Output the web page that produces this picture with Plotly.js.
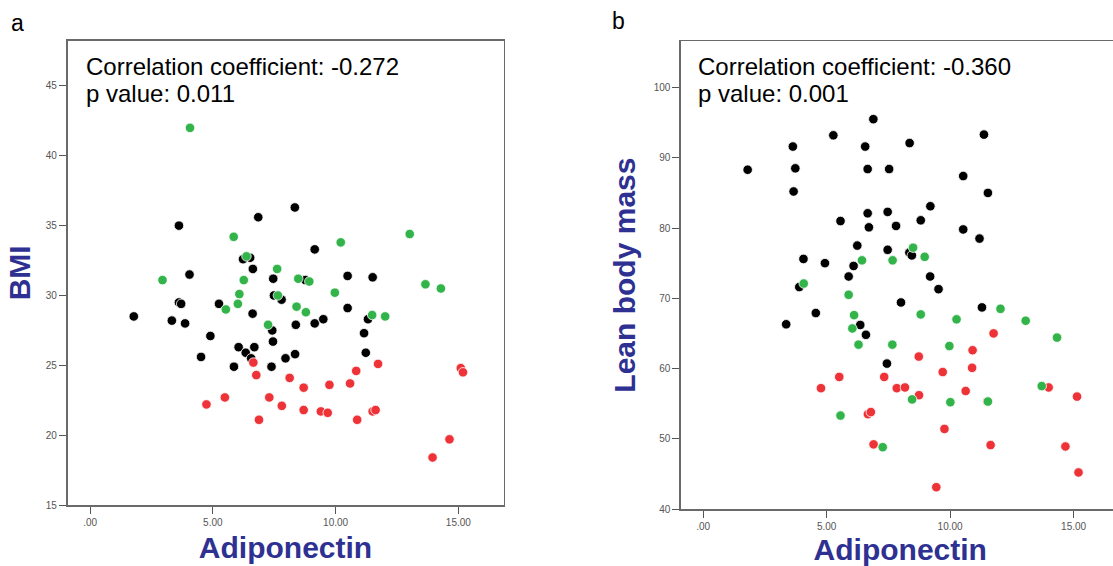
<!DOCTYPE html>
<html>
<head>
<meta charset="utf-8">
<script src="https://cdn.plot.ly/plotly-3.0.1.min.js"></script>
<style>
html,body{margin:0;padding:0;background:#fff;overflow:hidden;}
#chart{width:1125px;height:566px;}
</style>
</head>
<body>
<div id="chart"></div>
<script>
// ---------- Panel a: Adiponectin vs BMI ----------
const blackX_a = [1.78, 3.62, 4.05, 3.62, 3.71, 3.33, 3.87, 4.90, 4.52, 5.25, 5.86, 6.05, 6.34, 6.56, 6.69, 6.62, 6.63, 6.23, 6.52, 6.85, 8.34, 7.46, 7.49, 7.80, 7.42, 7.45, 7.39, 7.96, 8.35, 8.38, 8.77, 9.15, 9.15, 9.50, 10.49, 10.49, 11.51, 11.32, 11.16, 11.23];
const blackY_a = [28.5, 35.0, 31.5, 29.5, 29.4, 28.2, 28.0, 27.1, 25.6, 29.4, 24.9, 26.3, 25.9, 25.5, 26.3, 28.7, 31.9, 32.6, 32.7, 35.6, 36.3, 31.2, 30.0, 29.7, 27.5, 26.7, 24.9, 25.5, 25.8, 27.9, 31.1, 33.3, 28.0, 28.3, 31.4, 29.1, 31.3, 28.3, 27.3, 25.9];
const redX_a = [4.74, 5.49, 6.65, 6.77, 6.88, 7.30, 7.81, 8.13, 8.70, 8.70, 9.40, 9.68, 9.75, 10.59, 10.84, 10.88, 11.51, 11.63, 11.73, 13.95, 14.64, 15.10, 15.19];
const redY_a = [22.2, 22.7, 25.2, 24.3, 21.1, 22.7, 22.1, 24.1, 21.8, 23.4, 21.7, 21.6, 23.6, 23.7, 24.6, 21.1, 21.7, 21.8, 25.1, 18.4, 19.7, 24.8, 24.5];
const greenX_a = [4.07, 2.95, 5.85, 6.37, 6.26, 6.08, 6.02, 5.53, 7.62, 7.65, 7.25, 8.48, 8.93, 8.41, 8.79, 10.21, 9.97, 13.02, 13.66, 14.29, 11.49, 12.02];
const greenY_a = [42.0, 31.1, 34.2, 32.8, 31.1, 30.1, 29.4, 29.0, 31.9, 30.0, 27.9, 31.2, 31.0, 29.2, 28.8, 33.8, 30.2, 34.4, 30.8, 30.5, 28.6, 28.5];

// ---------- Panel b: Adiponectin vs Lean body mass ----------
const blackX_b = [1.80, 3.63, 3.73, 3.66, 4.06, 3.89, 3.36, 4.56, 4.93, 5.27, 5.56, 5.89, 6.09, 6.24, 6.36, 6.59, 6.56, 6.66, 6.66, 6.71, 6.89, 7.47, 7.47, 7.53, 7.81, 8.01, 7.44, 8.36, 8.35, 8.45, 8.81, 9.20, 9.19, 9.53, 10.53, 10.53, 11.37, 11.53, 11.19, 11.29];
const blackY_b = [88.3, 91.6, 88.5, 85.2, 75.6, 71.6, 66.3, 67.9, 75.0, 93.2, 81.0, 73.1, 74.6, 77.5, 66.2, 64.8, 91.6, 88.4, 82.1, 80.1, 95.5, 82.3, 76.9, 88.4, 80.3, 69.4, 60.7, 92.1, 76.5, 76.1, 81.1, 83.1, 73.1, 71.3, 87.4, 79.8, 93.3, 85.0, 78.5, 68.7];
const redX_b = [4.77, 5.51, 6.67, 6.79, 6.90, 7.33, 7.84, 8.17, 8.73, 8.74, 9.44, 9.70, 9.77, 10.63, 10.89, 10.91, 11.51, 11.64, 11.76, 13.99, 14.67, 15.14, 15.20];
const redY_b = [57.2, 58.8, 53.5, 53.8, 49.2, 58.8, 57.2, 57.3, 61.7, 56.2, 43.1, 59.5, 51.4, 56.8, 60.1, 62.6, 55.3, 49.1, 65.0, 57.3, 48.9, 56.0, 45.2];
const greenX_b = [4.07, 5.89, 6.11, 6.04, 6.29, 6.43, 5.56, 7.67, 7.66, 7.27, 8.50, 8.97, 8.81, 8.46, 9.97, 10.26, 10.01, 11.53, 12.04, 13.06, 14.33, 13.71];
const greenY_b = [72.1, 70.5, 67.6, 65.7, 63.4, 75.4, 53.3, 75.4, 63.4, 48.8, 77.2, 75.9, 67.7, 55.6, 63.2, 67.0, 55.2, 55.3, 68.5, 66.8, 64.4, 57.5];

// ---------- Ticks & labels ----------
const xTickVals = [0, 5, 10, 15];
const xTickText = ['.00', '5.00', '10.00', '15.00'];
const yTickVals_a = [15, 20, 25, 30, 35, 40, 45];
const yTickVals_b = [40, 50, 60, 70, 80, 90, 100];
const xTitle = 'Adiponectin';
const yTitle_a = 'BMI';
const yTitle_b = 'Lean body mass';
const stats_a = ['Correlation coefficient: -0.272', 'p value: 0.011'];
const stats_b = ['Correlation coefficient: -0.360', 'p value: 0.001'];

const BLACK = '#000000', RED = '#ee3338', GREEN = '#33b44a';
const W = 1125, H = 566;

function pts(x, y, color, xa, ya) {
  return {
    x: x, y: y, type: 'scatter', mode: 'markers', xaxis: xa, yaxis: ya,
    marker: {color: color, size: 9.5, line: {color: '#ffffff', width: 0.8}},
    showlegend: false, hoverinfo: 'x+y'
  };
}

const data = [
  pts(blackX_a, blackY_a, BLACK, 'x', 'y'),
  pts(redX_a, redY_a, RED, 'x', 'y'),
  pts(greenX_a, greenY_a, GREEN, 'x', 'y'),
  pts(blackX_b, blackY_b, BLACK, 'x2', 'y2'),
  pts(redX_b, redY_b, RED, 'x2', 'y2'),
  pts(greenX_b, greenY_b, GREEN, 'x2', 'y2')
];

const tickFont = {family: 'Liberation Sans, Arial, sans-serif', size: 10, color: '#555555'};
const titleFont = {family: 'Liberation Sans, Arial, sans-serif', size: 30, color: '#2e3192', weight: 'bold'};

function xAxis(domain, range, anchor) {
  return {
    domain: domain, range: range, anchor: anchor,
    showline: true, mirror: true, linecolor: '#6a6a6a', linewidth: 1.6,
    showgrid: false, zeroline: false, automargin: false,
    ticks: 'outside', ticklen: 7, tickwidth: 1, tickcolor: '#555555',
    tickvals: xTickVals, ticktext: xTickText, tickfont: tickFont,
    title: {text: xTitle, font: titleFont, standoff: 10}
  };
}
function yAxis(domain, range, anchor, tickvals, title, standoff) {
  return {
    domain: domain, range: range, anchor: anchor,
    showline: true, mirror: true, linecolor: '#6a6a6a', linewidth: 1.6,
    showgrid: false, zeroline: false, automargin: false,
    ticks: 'outside', ticklen: 7, tickwidth: 1, tickcolor: '#555555',
    tickvals: tickvals, tickfont: tickFont,
    title: {text: title, font: titleFont, standoff: standoff}
  };
}

const statFont = {family: 'Liberation Sans, Arial, sans-serif', size: 24, color: '#000000'};
function ann(text, xpx, ypx, font) {
  return {text: text, xref: 'paper', yref: 'paper', x: xpx / W, y: 1 - ypx / H,
          xanchor: 'left', yanchor: 'middle', showarrow: false, font: font, align: 'left'};
}

const layout = {
  width: W, height: H,
  margin: {l: 0, r: 0, t: 0, b: 0},
  paper_bgcolor: '#ffffff', plot_bgcolor: '#ffffff',
  xaxis: xAxis([67.5 / W, 503.5 / W], [-0.92, 16.84], 'y'),
  yaxis: yAxis([(H - 505) / H, (H - 40.7) / H], [15, 48.24], 'x', yTickVals_a, yTitle_a, 6),
  xaxis2: xAxis([681 / W, 1119.5 / W], [-0.90, 16.86], 'y2'),
  yaxis2: yAxis([(H - 509) / H, (H - 41.2) / H], [40, 106.6], 'x2', yTickVals_b, yTitle_b, 9),
  annotations: [
    ann('a', 9, 23, {family: 'Liberation Sans, Arial, sans-serif', size: 23, color: '#000'}),
    ann('b', 610, 21, {family: 'Liberation Sans, Arial, sans-serif', size: 23, color: '#000'}),
    ann(stats_a[0], 84, 67, statFont),
    ann(stats_a[1], 84, 94, statFont),
    ann(stats_b[0], 696, 67, statFont),
    ann(stats_b[1], 696, 94, statFont)
  ]
};

Plotly.newPlot('chart', data, layout, {displayModeBar: false, staticPlot: true});
</script>
</body>
</html>
